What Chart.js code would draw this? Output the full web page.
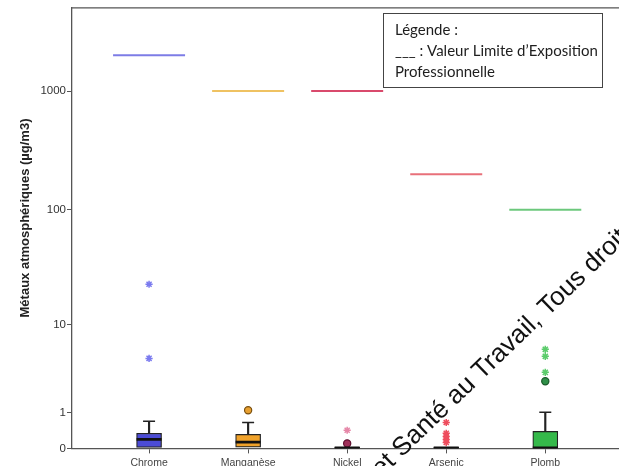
<!DOCTYPE html>
<html lang="fr">
<head>
<meta charset="utf-8">
<title>Métaux atmosphériques</title>
<script src="https://cdn.jsdelivr.net/npm/chart.js@4"></script>
<style>
  html, body { margin: 0; padding: 0; background: #fff; overflow: hidden; }
  #wrap { width: 619px; height: 466px; position: relative; overflow: hidden; }
  #c { position: absolute; left: 0; top: 0; display: block; }
</style>
</head>
<body>
<div id="wrap"><canvas id="c" width="680" height="474"></canvas></div>
<script>
// ---- data (µg/m3) ----
const categories = ['Chrome', 'Manganèse', 'Nickel', 'Arsenic', 'Plomb'];
const vlep = [2000, 1000, 1000, 200, 100];           // valeur limite d'exposition professionnelle
const q1 = [0.02, 0.025, 0, 0, 0];
const medians = [0.19, 0.13, 0.01, 0.01, 0.01];
const q3 = [0.34, 0.31, 0.02, 0.02, 0.39];
const whiskerHigh = [0.69, 0.65, null, null, 1.01];
const outliers = [[], [1.09], [0.10], [], [2.66]];   // valeurs atypiques (cercles)
const extremes = [[22.9, 4.7], [], [0.42], [0.65, 0.34, 0.26, 0.19, 0.12], [5.79, 4.93, 3.35]]; // extrêmes (étoiles)
const yTicks = [0, 1, 10, 100, 1000];

// ---- styles ----
const boxColors = ['#4b4bd6', '#f0a22a', '#a03060', '#e84050', '#35b94a'];
const vlepColors = ['#7d7ce6', '#efc262', '#d94a6c', '#e8707a', '#6cc87c'];
const circleFill = ['#4b4bd6', '#e8a030', '#a0305a', '#e84050', '#2f8f48'];
const circleEdge = ['#222266', '#7a5010', '#601030', '#802020', '#1a5a2a'];
const starColors = ['#7b7bef', '#e8a030', '#e687a8', '#ee4d5e', '#5ccc6c'];

Chart.defaults.font.family = "'Liberation Sans', Arial, sans-serif";

// Scale mapping y -> log10(y + 1), so that 0 stays on the axis
class Log1pScale extends Chart.Scale {
  static id = 'log1p';
  static defaults = {};
  determineDataLimits() {
    this.min = this.options.min ?? 0;
    this.max = this.options.max ?? 1000;
  }
  buildTicks() {
    return (this.options.ticks.values || []).map(v => ({ value: v }));
  }
  getLabelForValue(v) { return String(v); }
  getPixelForValue(v) {
    if (v === null || v === undefined || isNaN(v)) return NaN;
    const s = Math.log10(this.min + 1);
    const r = Math.log10(this.max + 1) - s;
    return this.getPixelForDecimal((Math.log10(v + 1) - s) / r);
  }
  getValueForPixel(p) {
    const s = Math.log10(this.min + 1);
    const r = Math.log10(this.max + 1) - s;
    return Math.pow(10, s + this.getDecimalForPixel(p) * r) - 1;
  }
}
Chart.register(Log1pScale);

const pos = i => i + 1;

const boxData = categories.map((c, i) => ({ x: pos(i), y: [q1[i], q3[i]] }));
const stemData = categories.map((c, i) => whiskerHigh[i] == null ? null : { x: pos(i), y: [q3[i], whiskerHigh[i]] }).filter(Boolean);
const capData = categories.map((c, i) => whiskerHigh[i] == null ? null : { x: pos(i), y: whiskerHigh[i] }).filter(Boolean);
const medianData = categories.map((c, i) => ({ x: pos(i), y: medians[i] }));
const vlepData = categories.map((c, i) => ({ x: pos(i), y: vlep[i] }));

const circlePts = [], circleBg = [], circleBd = [];
outliers.forEach((arr, i) => arr.forEach(v => { circlePts.push({ x: pos(i), y: v }); circleBg.push(circleFill[i]); circleBd.push(circleEdge[i]); }));
const starPts = [], starCol = [];
extremes.forEach((arr, i) => arr.forEach(v => { starPts.push({ x: pos(i), y: v }); starCol.push(starColors[i]); }));

// Frame, axis title, legend note and overlay text
const decorations = {
  id: 'decorations',
  afterDraw(chart) {
    const { ctx, chartArea: a } = chart;
    ctx.save();
    // top frame line
    ctx.strokeStyle = '#555';
    ctx.lineWidth = 1.3;
    ctx.beginPath();
    ctx.moveTo(a.left, a.top);
    ctx.lineTo(a.right, a.top);
    ctx.stroke();

    // y-axis title
    ctx.save();
    ctx.translate(25, 218);
    ctx.rotate(-Math.PI / 2);
    ctx.fillStyle = '#222';
    ctx.font = "bold 13px 'Liberation Sans', Arial, sans-serif";
    ctx.textAlign = 'center';
    ctx.textBaseline = 'middle';
    ctx.fillText('Métaux atmosphériques (µg/m3)', 0, 0);
    ctx.restore();

    // legend note box
    ctx.fillStyle = '#fff';
    ctx.fillRect(383, 13, 219, 74);
    ctx.strokeStyle = '#444';
    ctx.lineWidth = 1;
    ctx.strokeRect(383.5, 13.5, 219, 74);
    ctx.fillStyle = '#1e1e1e';
    ctx.font = "15px Lato, 'Open Sans', sans-serif";
    ctx.textAlign = 'left';
    ctx.textBaseline = 'middle';
    ctx.fillText('Légende :', 395, 30);
    ctx.fillText('___ : Valeur Limite d\u2019Exposition', 395, 51);
    ctx.fillText('Professionnelle', 395, 72);

    // diagonal overlay text
    ctx.save();
    ctx.translate(381, 478);
    ctx.rotate(-44 * Math.PI / 180);
    ctx.fillStyle = '#111';
    ctx.font = "26px 'Liberation Sans', Arial, sans-serif";
    ctx.textAlign = 'left';
    ctx.textBaseline = 'alphabetic';
    ctx.fillText('et Santé au Travail, Tous droits réservés', 0, 0);
    ctx.restore();
    ctx.restore();
  }
};

new Chart(document.getElementById('c'), {
  type: 'bar',
  data: {
    datasets: [
      { type: 'line', label: 'Médiane', data: medianData, showLine: false,
        pointStyle: 'line', pointRadius: 12.5, pointBorderWidth: 2.6, pointBorderColor: '#111' },
      { type: 'line', label: 'Moustache', data: capData, showLine: false,
        pointStyle: 'line', pointRadius: 6, pointBorderWidth: 1.5, pointBorderColor: '#222' },
      { type: 'line', label: 'Atypiques', data: circlePts, showLine: false,
        pointStyle: 'circle', pointRadius: 3.6, pointBorderWidth: 1.2,
        pointBackgroundColor: circleBg, pointBorderColor: circleBd },
      { type: 'line', label: 'Extrêmes', data: starPts, showLine: false,
        pointStyle: 'star', pointRadius: 3.6, pointBorderWidth: 1.5,
        pointBorderColor: starCol, pointBackgroundColor: starCol },
      { type: 'bar', label: 'Boîte', data: boxData, grouped: false, barThickness: 25,
        backgroundColor: boxColors, borderColor: '#222', borderWidth: 1.2, borderSkipped: false },
      { type: 'bar', label: 'Tige', data: stemData, grouped: false, barThickness: 1.5,
        backgroundColor: '#222', borderWidth: 0 },
      { type: 'line', label: 'VLEP', data: vlepData, showLine: false,
        pointStyle: 'line', pointRadius: 36, pointBorderWidth: 2, pointBorderColor: vlepColors }
    ]
  },
  options: {
    responsive: false,
    maintainAspectRatio: false,
    devicePixelRatio: 1,
    animation: false,
    events: [],
    layout: { autoPadding: false, padding: { top: 7, left: 0, right: 0, bottom: 2 } },
    plugins: { legend: { display: false }, tooltip: { enabled: false } },
    scales: {
      x: {
        type: 'linear', min: 0.222, max: 6.36, offset: false, bounds: 'data',
        afterBuildTicks: s => { s.ticks = categories.map((c, i) => ({ value: pos(i) })); },
        ticks: { autoSkip: false, maxRotation: 0, minRotation: 0, padding: 3, color: '#444',
                 font: { size: 10.5 }, callback: v => categories[v - 1] ?? '' },
        grid: { offset: false, drawOnChartArea: false, drawTicks: true, tickLength: 5, color: '#555', lineWidth: 1 },
        border: { display: true, color: '#555', width: 1.3 }
      },
      y: {
        type: 'log1p', min: 0, max: 5000,
        ticks: { values: yTicks, autoSkip: false, padding: 1, color: '#333', font: { size: 11.5 } },
        grid: { drawOnChartArea: false, drawTicks: true, tickLength: 5, color: '#555', lineWidth: 1 },
        border: { display: true, color: '#555', width: 1.3 },
        afterFit: s => { s.width = 72; }
      }
    }
  },
  plugins: [decorations]
});
</script>
</body>
</html>
